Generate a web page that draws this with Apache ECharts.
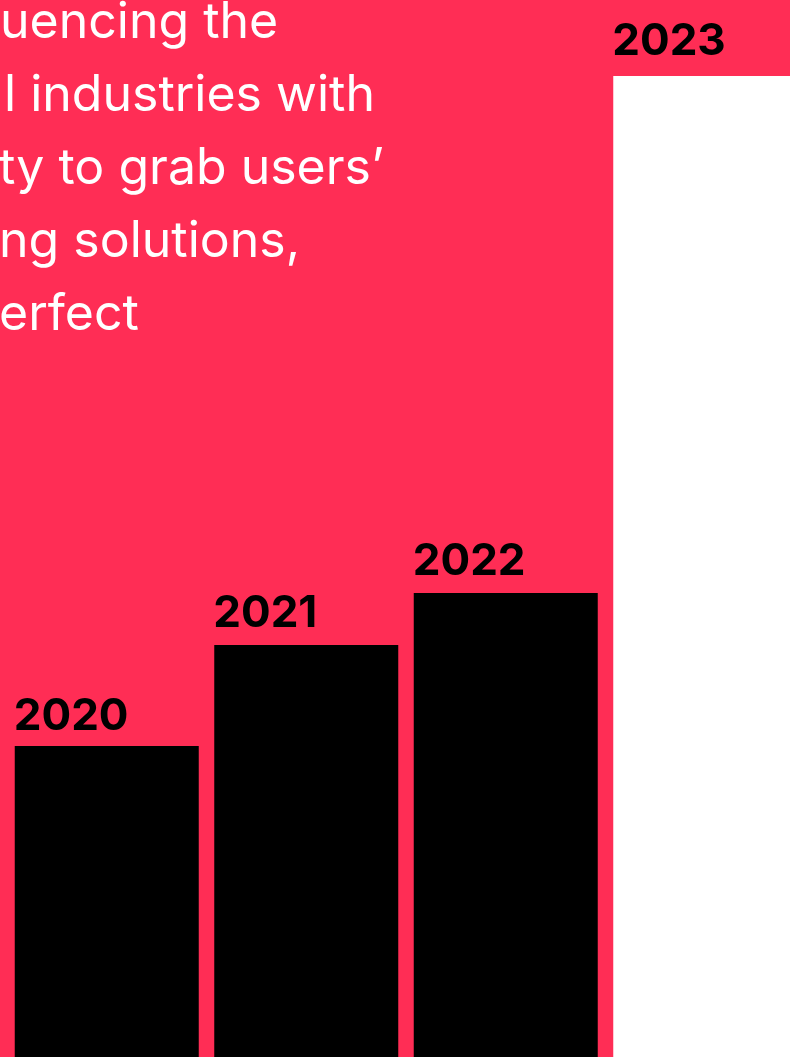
<!DOCTYPE html>
<html>
<head>
<meta charset="utf-8">
<script src="https://cdn.jsdelivr.net/npm/echarts@6/dist/echarts.min.js"></script>
<style>
html, body { margin: 0; padding: 0; background: #ff2d55; }
#myChart { width: 790px; height: 1057px; }
</style>
</head>
<body>
<div id="myChart"></div>
<script>
// data (bar heights in px of a 1000 px axis)
const years = ['2020', '2021', '2022', '2023']
const values = [311, 412, 464, 981]
const barColors = ['#000000', '#000000', '#000000', '#ffffff']

// visible (left-cropped) paragraph lines
const textLines = ['uencing the', 'l industries with', 'ty to grab users’', 'ng solutions,', 'erfect']
const textX = [0, 4, -1, -1, -1]

// small per-label vertical nudges (px above bar top)
const labelLift = [29, 31, 31, 34]

const myChart = echarts.init(document.getElementById('myChart'))
myChart.setOption({
  backgroundColor: '#ff2d55',
  animation: false,
  grid: {
    left: 7,
    width: 798,
    top: 57,
    bottom: 0,
    outerBoundsMode: 'none'
  },
  xAxis: {
    type: 'category',
    data: years,
    show: false
  },
  yAxis: {
    type: 'value',
    min: 0,
    max: 1000,
    show: false
  },
  graphic: textLines.map(function(line, i) {
    return {
      type: 'text',
      x: textX[i],
      y: 23 + i * 73,
      style: {
        text: line,
        fill: '#ffffff',
        font: '400 50px Inter',
        verticalAlign: 'middle'
      }
    }
  }),
  series: [
    {
      type: 'bar',
      barWidth: 184,
      data: values.map(function(v, i) {
        return {
          value: v,
          itemStyle: { color: barColors[i] },
          label: { position: [-1, -labelLift[i]] }
        }
      }),
      label: {
        show: true,
        formatter: function(p) { return p.name },
        align: 'left',
        verticalAlign: 'middle',
        color: '#000000',
        fontFamily: 'Inter',
        fontWeight: 700,
        fontSize: 44
      }
    }
  ]
})
</script>
</body>
</html>
